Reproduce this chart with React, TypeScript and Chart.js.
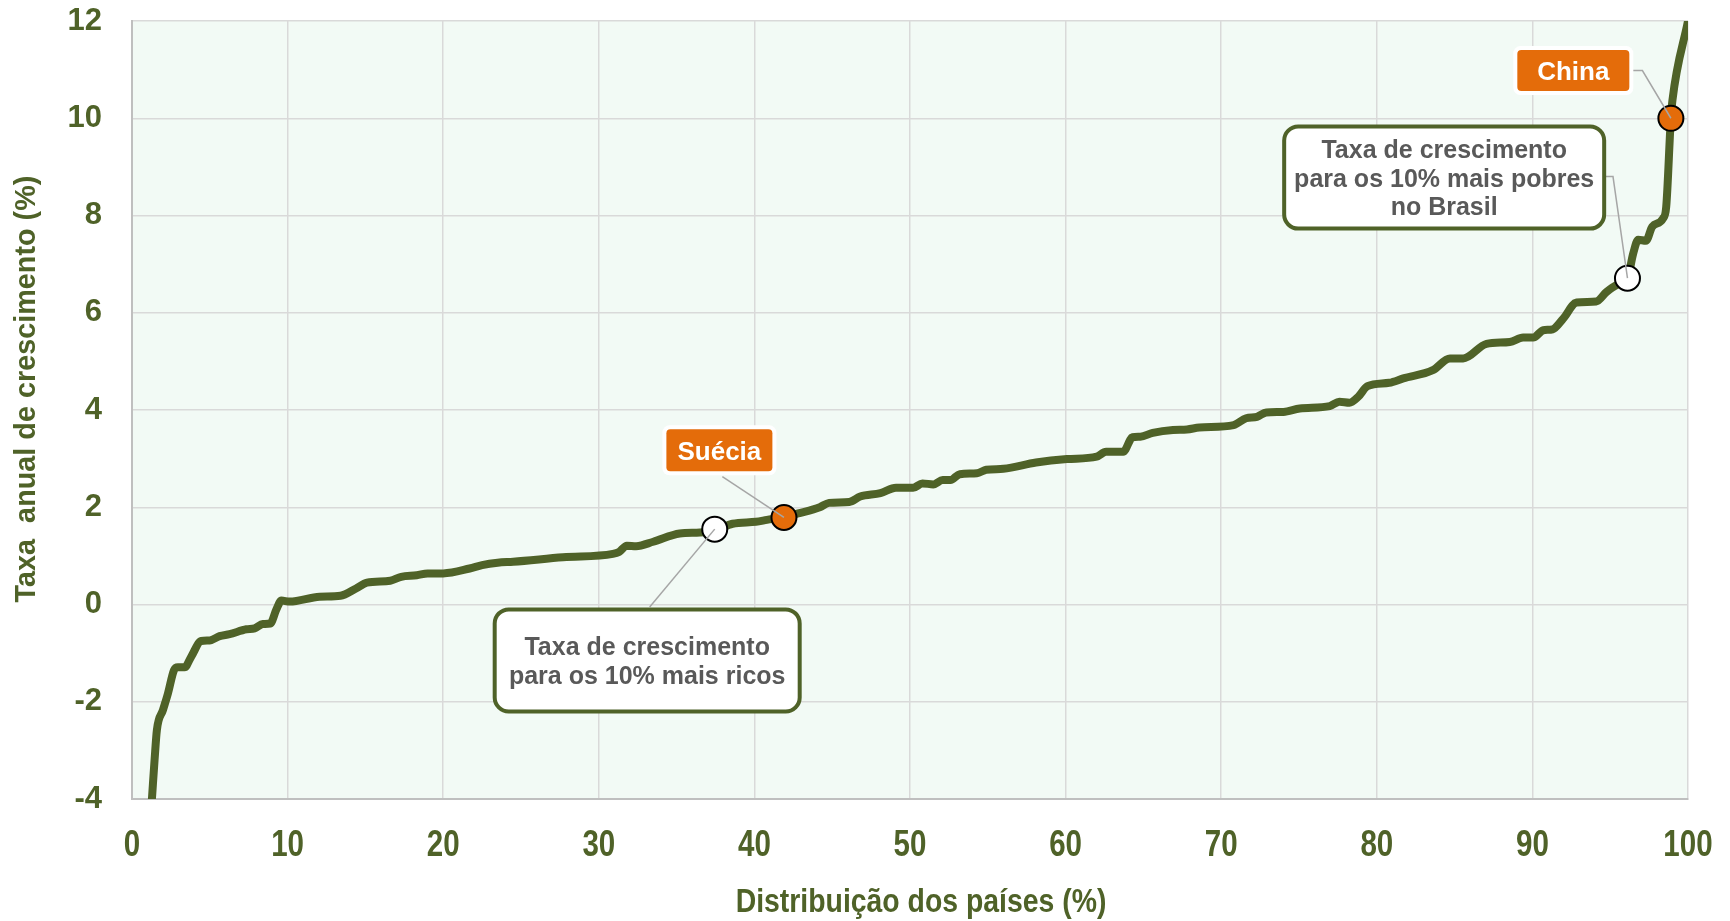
import React, { useEffect, useRef } from 'react';
import { Chart, registerables } from 'chart.js';

Chart.register(...registerables);

// Distribution of countries (%) — x
const distribution = [
  1.15, 1.28, 1.45, 1.6, 1.99, 2.31, 2.7, 2.95, 3.38, 3.81, 4.45, 4.99, 5.63, 6.27, 7.35, 7.88, 8.41, 8.89, 9.27, 9.6,
  10.13, 12.06, 13.4, 14.4, 15.1, 16.6, 17.3, 18.3, 19.0, 20.0, 21.7, 22.5, 23.5, 24.5, 27.7, 30.9, 31.3, 31.8, 32.4, 33.5,
  35.2, 36.5, 37.45, 38.6, 40.1, 40.8, 41.9, 42.9, 44.2, 44.8, 46.1, 46.8, 48.1, 49.1, 50.2, 50.8, 51.5, 52.1, 52.6, 53.2,
  54.3, 54.9, 56.0, 58.1, 60.1, 62.0, 62.6, 63.7, 64.3, 64.8, 65.6, 66.9, 67.8, 68.6, 70.8, 71.6, 72.3, 72.9, 74.0, 75.05,
  76.98, 77.6, 78.25, 78.8, 79.4, 80.8, 81.7, 83.6, 84.7, 85.55, 87.05, 88.55, 89.4, 90.05, 90.7, 91.3, 91.98, 92.84, 94.1, 94.77,
  95.4, 96.11, 96.48, 96.8, 97.3, 97.7, 98.4, 98.6, 98.9, 99.0, 100,
];
// Annual growth rate (%) — y
const growth = [
  -4.6, -4.0, -3.2, -2.58, -2.17, -1.83, -1.35, -1.29, -1.29, -1.07, -0.75, -0.74, -0.65, -0.61, -0.51, -0.49, -0.4, -0.39, -0.11, 0.08,
  0.06, 0.16, 0.18, 0.33, 0.45, 0.49, 0.57, 0.6, 0.64, 0.64, 0.74, 0.81, 0.86, 0.88, 0.97, 1.04, 1.08, 1.21, 1.2, 1.29,
  1.46, 1.48, 1.52, 1.66, 1.7, 1.74, 1.8, 1.88, 2.0, 2.09, 2.11, 2.22, 2.29, 2.4, 2.4, 2.49, 2.47, 2.56, 2.56, 2.68,
  2.7, 2.77, 2.79, 2.92, 2.99, 3.04, 3.14, 3.14, 3.44, 3.45, 3.53, 3.59, 3.6, 3.64, 3.69, 3.83, 3.86, 3.95, 3.96, 4.03,
  4.08, 4.17, 4.15, 4.27, 4.49, 4.56, 4.65, 4.82, 5.06, 5.06, 5.36, 5.4, 5.49, 5.49, 5.64, 5.66, 5.88, 6.21, 6.23, 6.43,
  6.57, 6.71, 7.22, 7.5, 7.48, 7.77, 7.94, 8.18, 10.0, 10.37, 12.0,
];

// Decile markers (white): richest 10% and poorest 10% in Brazil
const decileX = [37.45, 96.11];
const decileY = [1.55, 6.71];
// Country markers (orange): Suécia, China
const countryX = [41.9, 98.9];
const countryY = [1.79, 10.0];

const xTickValues = [0, 10, 20, 30, 40, 50, 60, 70, 80, 90, 100];
const yTickValues = [-4, -2, 0, 2, 4, 6, 8, 10, 12];

const xTitle = 'Distribuição dos países (%)';
const yTitle = 'Taxa  anual de crescimento (%)';

const OLIVE = '#4F6228';
const ORANGE = '#E46C0A';
const GREY_TEXT = '#595959';
const LEADER = '#A6A6A6';
const PLOT_BG = '#F2FAF5';
const GRID = '#D9D9D9';
const ARIAL = "'Liberation Sans', Arial, sans-serif";
const NARROW = 0.82;

type Ann = {
  kind: 'label' | 'box';
  lines: string[];
  cx: number;
  cy: number;
  w: number;
  h: number;
  leader: number[][];
};

const annotations: Ann[] = [
  { kind: 'label', lines: ['China'], cx: 92.63, cy: 10.98, w: 112, h: 41,
    leader: [[96.46, 10.98], [97.07, 10.98], [countryX[1], countryY[1]]] },
  { kind: 'box', lines: ['Taxa de crescimento', 'para os 10% mais pobres', 'no Brasil'], cx: 84.33, cy: 8.78, w: 320, h: 102,
    leader: [[94.59, 8.8], [95.18, 8.8], [decileX[1], decileY[1]]] },
  { kind: 'label', lines: ['Suécia'], cx: 37.75, cy: 3.17, w: 106, h: 42,
    leader: [[37.94, 2.63], [countryX[0], countryY[0]]] },
  { kind: 'box', lines: ['Taxa de crescimento', 'para os 10% mais ricos'], cx: 33.11, cy: -1.15, w: 305, h: 102,
    leader: [[33.27, -0.05], [decileX[0], decileY[0]]] },
];

function rr(ctx: CanvasRenderingContext2D, x: number, y: number, w: number, h: number, r: number) {
  ctx.beginPath();
  ctx.moveTo(x + r, y);
  ctx.lineTo(x + w - r, y);
  ctx.arcTo(x + w, y, x + w, y + r, r);
  ctx.lineTo(x + w, y + h - r);
  ctx.arcTo(x + w, y + h, x + w - r, y + h, r);
  ctx.lineTo(x + r, y + h);
  ctx.arcTo(x, y + h, x, y + h - r, r);
  ctx.lineTo(x, y + r);
  ctx.arcTo(x, y, x + r, y, r);
  ctx.closePath();
}

const bgPlugin = {
  id: 'bgPlugin',
  beforeDraw(chart: any) {
    const { ctx, chartArea } = chart;
    ctx.save();
    ctx.fillStyle = '#ffffff';
    ctx.fillRect(0, 0, chart.width, chart.height);
    ctx.fillStyle = PLOT_BG;
    ctx.fillRect(chartArea.left, chartArea.top, chartArea.right - chartArea.left, chartArea.bottom - chartArea.top);
    ctx.restore();
  },
};

const annotationPlugin = {
  id: 'annotationPlugin',
  afterDatasetsDraw(chart: any) {
    const { ctx } = chart;
    const xs = chart.scales.x;
    const ys = chart.scales.y;
    ctx.save();
    ctx.strokeStyle = LEADER;
    ctx.lineWidth = 1.5;
    for (const a of annotations) {
      ctx.beginPath();
      a.leader.forEach((p, i) => {
        const px = xs.getPixelForValue(p[0]);
        const py = ys.getPixelForValue(p[1]);
        if (i === 0) ctx.moveTo(px, py);
        else ctx.lineTo(px, py);
      });
      ctx.stroke();
    }
    for (const a of annotations) {
      const cx = xs.getPixelForValue(a.cx);
      const cy = ys.getPixelForValue(a.cy);
      const l = cx - a.w / 2;
      const t = cy - a.h / 2;
      let size: number;
      let lh: number;
      if (a.kind === 'label') {
        ctx.fillStyle = '#ffffff';
        rr(ctx, l - 4, t - 4, a.w + 8, a.h + 8, 7);
        ctx.fill();
        ctx.fillStyle = ORANGE;
        rr(ctx, l, t, a.w, a.h, 4);
        ctx.fill();
        ctx.fillStyle = '#ffffff';
        size = 26;
        lh = 29;
      } else {
        ctx.fillStyle = '#ffffff';
        rr(ctx, l, t, a.w, a.h, 14);
        ctx.fill();
        ctx.strokeStyle = OLIVE;
        ctx.lineWidth = 4;
        ctx.stroke();
        ctx.fillStyle = GREY_TEXT;
        size = 25;
        lh = 28.8;
      }
      ctx.font = `bold ${size}px ${ARIAL}`;
      ctx.textAlign = 'center';
      ctx.textBaseline = 'alphabetic';
      const n = a.lines.length;
      const cap = size * 0.716;
      a.lines.forEach((line, i) => {
        const by = cy - ((n - 1) * lh) / 2 + i * lh + cap / 2;
        ctx.fillText(line, cx, by);
      });
    }
    ctx.restore();
  },
  afterDraw(chart: any) {
    const { ctx, chartArea } = chart;
    const xs = chart.scales.x;
    // y title
    ctx.save();
    ctx.fillStyle = OLIVE;
    ctx.font = `bold 28.8px ${ARIAL}`;
    ctx.textAlign = 'center';
    ctx.textBaseline = 'alphabetic';
    ctx.translate(34.5, (chartArea.top + chartArea.bottom) / 2 - 21);
    ctx.rotate(-Math.PI / 2);
    ctx.fillText(yTitle, 0, 0);
    ctx.restore();
    // x tick labels (narrow)
    ctx.save();
    ctx.fillStyle = OLIVE;
    ctx.font = `bold 36px ${ARIAL}`;
    ctx.textAlign = 'center';
    ctx.textBaseline = 'alphabetic';
    for (const v of xTickValues) {
      ctx.save();
      ctx.translate(xs.getPixelForValue(v), chartArea.bottom + 57);
      ctx.scale(NARROW, 1);
      ctx.fillText(String(v), 0, 0);
      ctx.restore();
    }
    ctx.restore();
    // x title (narrow)
    ctx.save();
    ctx.fillStyle = OLIVE;
    ctx.font = `bold 34px ${ARIAL}`;
    ctx.textAlign = 'center';
    ctx.textBaseline = 'alphabetic';
    ctx.translate((chartArea.left + chartArea.right) / 2 + 11, chart.height - 9.5);
    ctx.scale(0.835, 1);
    ctx.fillText(xTitle, 0, 0);
    ctx.restore();
  },
};

export default function App() {
  const ref = useRef<HTMLCanvasElement | null>(null);

  useEffect(() => {
    document.body.style.margin = '0';
    const canvas = ref.current;
    if (!canvas) return;
    const chart = new Chart(canvas, {
      type: 'line',
      data: {
        datasets: [
          {
            type: 'scatter',
            label: 'Decis',
            data: decileX.map((x, i) => ({ x, y: decileY[i] })),
            backgroundColor: '#ffffff',
            borderColor: '#000000',
            borderWidth: 2,
            pointRadius: 12.5,
            order: 0,
            clip: false as any,
          } as any,
          {
            type: 'scatter',
            label: 'Países',
            data: countryX.map((x, i) => ({ x, y: countryY[i] })),
            backgroundColor: ORANGE,
            borderColor: '#000000',
            borderWidth: 2,
            pointRadius: 12.5,
            order: 0,
            clip: false as any,
          } as any,
          {
            type: 'line',
            label: 'Taxa anual de crescimento',
            data: distribution.map((x, i) => ({ x, y: growth[i] })),
            borderColor: OLIVE,
            borderWidth: 8,
            pointRadius: 0,
            fill: false,
            cubicInterpolationMode: 'monotone',
            borderJoinStyle: 'round',
            borderCapStyle: 'round',
            order: 1,
            clip: 0 as any,
          } as any,
        ],
      },
      options: {
        responsive: false,
        animation: false,
        devicePixelRatio: 1,
        events: [],
        layout: { padding: { top: 21, right: 42, left: 0, bottom: 0 } },
        plugins: {
          legend: { display: false },
          tooltip: { enabled: false },
          title: { display: false },
        },
        scales: {
          x: {
            type: 'linear',
            min: 0,
            max: 100,
            afterBuildTicks: (scale: any) => {
              scale.ticks = xTickValues.map((v) => ({ value: v }));
            },
            afterFit: (scale: any) => {
              scale.height = 122;
              scale.paddingLeft = 0;
              scale.paddingRight = 0;
            },
            ticks: { display: false, autoSkip: false },
            grid: { color: GRID, lineWidth: 1.5, drawTicks: false },
            border: { color: '#BFBFBF', width: 2 },
          },
          y: {
            type: 'linear',
            min: -4,
            max: 12,
            afterBuildTicks: (scale: any) => {
              scale.ticks = yTickValues.map((v) => ({ value: v }));
            },
            afterFit: (scale: any) => {
              scale.width = 132;
              scale.paddingTop = 0;
              scale.paddingBottom = 0;
            },
            ticks: {
              color: OLIVE,
              padding: 30,
              font: { family: ARIAL, size: 31, weight: 'bold' },
              autoSkip: false,
            },
            grid: { color: GRID, lineWidth: 1.5, drawTicks: false },
            border: { color: '#BFBFBF', width: 2 },
          },
        },
      } as any,
      plugins: [bgPlugin, annotationPlugin],
    });
    return () => chart.destroy();
  }, []);

  return (
    <div style={{ width: 1730, height: 921, background: '#fff' }}>
      <canvas ref={ref} width={1730} height={921} style={{ display: 'block', width: 1730, height: 921 }} />
    </div>
  );
}
